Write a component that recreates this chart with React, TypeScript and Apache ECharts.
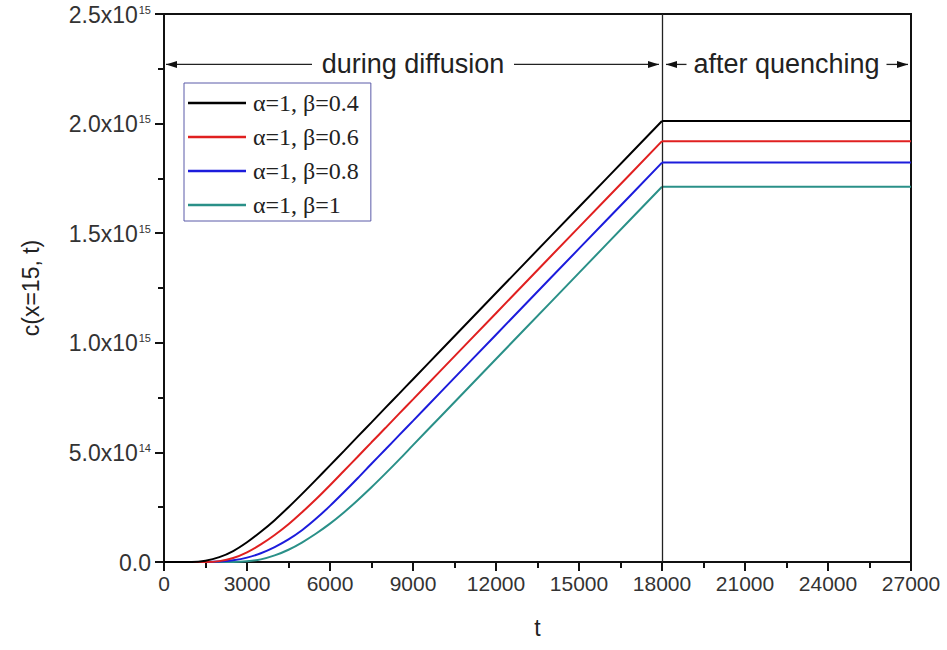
import React, { useEffect, useRef } from "react";
import * as echarts from "echarts";

const T = [0, 1000, 1500, 2000, 2500, 3000, 3500, 4000, 4500, 5000, 5500, 6000, 6500, 7000, 7500, 8000, 8500, 9000, 10000, 12000, 14000, 16000, 18000];
const T_END = 27000;
const E15 = 1e15;
const beta04 = [0, 0, 0.006, 0.022, 0.05, 0.09, 0.138, 0.191, 0.25, 0.312, 0.376, 0.441, 0.506, 0.572, 0.637, 0.703, 0.768, 0.834, 0.965, 1.227, 1.489, 1.75, 2.012];
const beta06 = [0, 0, 0, 0.004, 0.018, 0.044, 0.08, 0.123, 0.172, 0.228, 0.287, 0.35, 0.415, 0.48, 0.546, 0.611, 0.677, 0.742, 0.873, 1.135, 1.397, 1.658, 1.92];
const beta08 = [0, 0, 0, 0.002, 0.008, 0.02, 0.04, 0.068, 0.103, 0.146, 0.198, 0.256, 0.318, 0.382, 0.448, 0.513, 0.579, 0.644, 0.775, 1.037, 1.299, 1.56, 1.822];
const beta1 = [0, 0, 0, 0, 0, 0.003, 0.012, 0.03, 0.056, 0.09, 0.13, 0.175, 0.226, 0.282, 0.341, 0.403, 0.467, 0.533, 0.664, 0.926, 1.188, 1.45, 1.712];

const seriesNames = ["α=1, β=0.4", "α=1, β=0.6", "α=1, β=0.8", "α=1, β=1"];
const seriesColors = ["#000000", "#e02020", "#1c1cdc", "#2a9088"];
const seriesValues = [beta04, beta06, beta08, beta1];

const X_MAX = 27000;
const X_STEP = 3000;
const Y_MAX = 2.5e15;
const Y_STEP = 0.5e15;
const T_QUENCH = 18000;
const ANNOT_Y = 2.27e15;
const LABEL_DURING = "during diffusion";
const LABEL_AFTER = "after quenching";

function yLabel(v: number): string {
  if (v === 0) return "{a|0.0}";
  const exp = Math.floor(Math.log10(v) + 1e-9);
  const m = v / Math.pow(10, exp);
  return `{a|${m.toFixed(1)}x10}{s|${exp}}`;
}

export default function App() {
  const ref = useRef<HTMLDivElement>(null);
  useEffect(() => {
    document.body.style.margin = "0";
    const chart = echarts.init(ref.current!, null, { renderer: "svg" });
    const font = "'Liberation Sans', Arial, sans-serif";
    const series: any[] = [];
    seriesValues.forEach((vals, i) => {
      const last = vals[vals.length - 1];
      series.push({
        name: seriesNames[i],
        type: "line",
        data: T.map((t, j) => [t, vals[j] * E15]),
        symbol: "none",
        showSymbol: false,
        smooth: 0.3,
        lineStyle: { color: seriesColors[i], width: 2 },
        itemStyle: { color: seriesColors[i] },
        z: 3 + (4 - i),
        markLine:
          i === 0
            ? {
                silent: true,
                symbol: "none",
                label: { show: false },
                lineStyle: { color: "#222", width: 1.3, type: "solid" },
                data: [{ xAxis: T_QUENCH }],
              }
            : undefined,
      });
      series.push({
        name: seriesNames[i],
        type: "line",
        data: [
          [T_QUENCH, last * E15],
          [T_END, last * E15],
        ],
        symbol: "none",
        showSymbol: false,
        lineStyle: { color: seriesColors[i], width: 2 },
        itemStyle: { color: seriesColors[i] },
        z: 3 + (4 - i),
      });
    });
    chart.setOption({
      animation: false,
      backgroundColor: "#ffffff",
      grid: {
        left: 164,
        top: 14,
        right: 36,
        bottom: 88,
        show: true,
        borderColor: "#111",
        borderWidth: 2,
        backgroundColor: "transparent",
      },
      legend: {
        data: seriesNames,
        orient: "vertical",
        left: 184,
        top: 83,
        icon: "rect",
        itemWidth: 58,
        itemHeight: 2.5,
        itemGap: 10,
        padding: [8, 12, 4, 4],
        borderColor: "#5b5ba8",
        borderWidth: 1,
        backgroundColor: "#fff",
        textStyle: {
          fontFamily: "'Liberation Serif', 'Times New Roman', serif",
          fontSize: 24,
          lineHeight: 24,
          color: "#222",
          padding: [0, 0, 0, 2],
        },
      },
      xAxis: {
        type: "value",
        min: 0,
        max: X_MAX,
        interval: X_STEP,
        name: "t",
        nameLocation: "middle",
        nameGap: 54,
        nameTextStyle: { fontFamily: font, fontSize: 23, color: "#222" },
        axisLine: { show: true, lineStyle: { color: "#111", width: 2 } },
        axisTick: { show: true, inside: false, length: 9, lineStyle: { color: "#111", width: 2 } },
        minorTick: { show: true, splitNumber: 2, length: 6, lineStyle: { color: "#111", width: 2 } },
        axisLabel: { fontFamily: font, fontSize: 21, color: "#333", margin: 11, formatter: (v: number) => String(v) },
        splitLine: { show: false },
      },
      yAxis: {
        type: "value",
        min: 0,
        max: Y_MAX,
        interval: Y_STEP,
        name: "c(x=15, t)",
        nameLocation: "middle",
        nameGap: 122,
        nameTextStyle: { fontFamily: font, fontSize: 23, color: "#222" },
        axisLine: { show: true, lineStyle: { color: "#111", width: 2 } },
        axisTick: { show: true, inside: false, length: 9, lineStyle: { color: "#111", width: 2 } },
        minorTick: { show: true, splitNumber: 2, length: 6, lineStyle: { color: "#111", width: 2 } },
        axisLabel: {
          margin: 13,
          formatter: yLabel,
          rich: {
            a: { fontFamily: font, fontSize: 23, color: "#333", lineHeight: 24, verticalAlign: "bottom" },
            s: { fontFamily: font, fontSize: 11, color: "#333", lineHeight: 24, verticalAlign: "top", padding: [2, 0, 0, 1] },
          },
        },
        splitLine: { show: false },
      },
      series,
    });

    const px = (t: number, v: number) => chart.convertToPixel({ gridIndex: 0 }, [t, v]) as number[];
    const y = px(0, ANNOT_Y)[1];
    const x0 = px(0, ANNOT_Y)[0];
    const xq = px(T_QUENCH, ANNOT_Y)[0];
    const xe = px(X_MAX, ANNOT_Y)[0];
    const xDuringMid = (x0 + xq) / 2;
    const xAfterMid = (xq + xe) / 2;
    const lineStyle = { stroke: "#222", lineWidth: 1.3 };
    const arrowL = (tip: number) => ({
      type: "polygon",
      shape: { points: [[tip, y], [tip + 11, y - 3.5], [tip + 11, y + 3.5]] },
      style: { fill: "#111" },
      silent: true,
    });
    const arrowR = (tip: number) => ({
      type: "polygon",
      shape: { points: [[tip, y], [tip - 11, y - 3.5], [tip - 11, y + 3.5]] },
      style: { fill: "#111" },
      silent: true,
    });
    const seg = (a: number, b: number) => ({
      type: "line",
      shape: { x1: a, y1: y, x2: b, y2: y },
      style: lineStyle,
      silent: true,
    });
    const txt = (x: number, s: string) => ({
      type: "text",
      x,
      y,
      style: {
        text: s,
        font: `27px ${font}`,
        fill: "#222",
        align: "center",
        verticalAlign: "middle",
      },
      silent: true,
    });
    const duringHalf = 101;
    const afterHalf = 100;
    chart.setOption({
      graphic: [
        seg(x0 + 2, xDuringMid - duringHalf),
        arrowL(x0 + 2),
        seg(xDuringMid + duringHalf, xq - 3),
        arrowR(xq - 3),
        txt(xDuringMid, LABEL_DURING),
        seg(xq + 4, xAfterMid - afterHalf),
        arrowL(xq + 4),
        seg(xAfterMid + afterHalf, xe - 3),
        arrowR(xe - 3),
        txt(xAfterMid, LABEL_AFTER),
      ],
    });
    return () => chart.dispose();
  }, []);
  return <div ref={ref} style={{ width: 947, height: 650, position: "absolute", left: 0, top: 0 }} />;
}
